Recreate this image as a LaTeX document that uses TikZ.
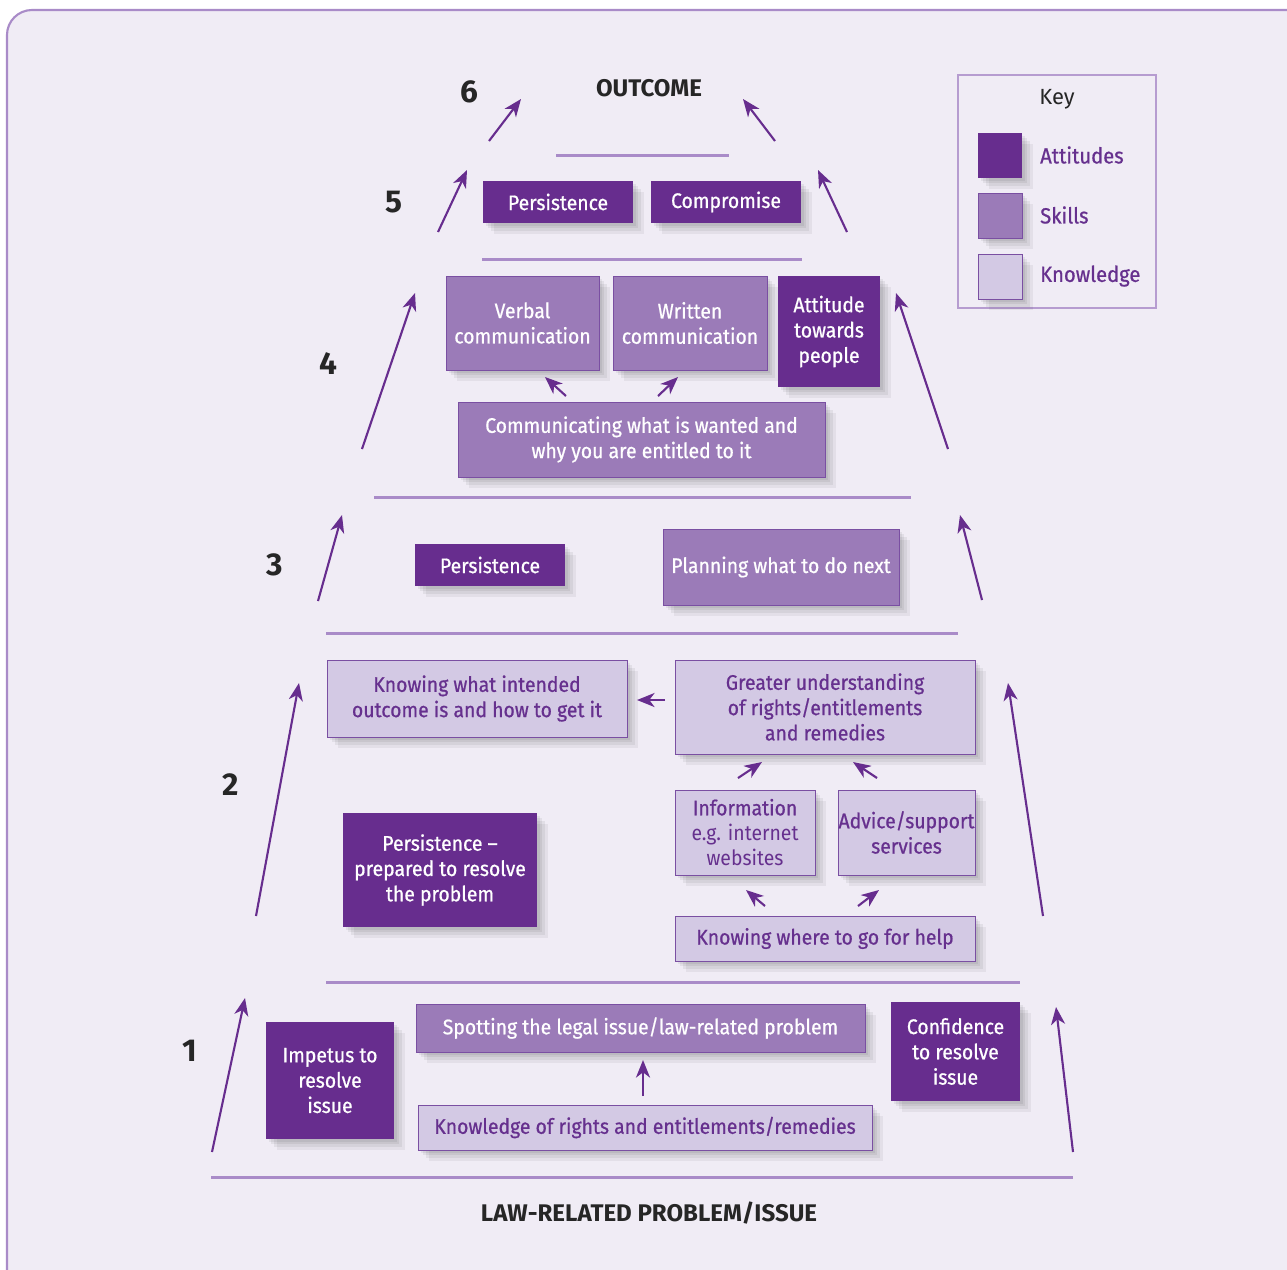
\documentclass[tikz,border=0pt]{standalone}
\usepackage{fontspec}
\setmainfont{Fira Sans}[FakeStretch=0.92, FakeBold=0.7]
\newfontfamily\headfont{Fira Sans}
\newfontfamily\lightfont{Fira Sans}[FakeStretch=0.92]
\usetikzlibrary{arrows.meta,shapes,positioning,shadows}

\definecolor{attcol}{HTML}{672D8E}
\definecolor{skillcol}{HTML}{9B7BB8}
\definecolor{knowcol}{HTML}{D3C9E4}
\definecolor{edgecol}{HTML}{7A4FA2}
\definecolor{linecol}{HTML}{A98BC8}
\definecolor{bgcol}{HTML}{F0ECF5}
\definecolor{textcol}{HTML}{66308E}

\begin{document}
\begin{tikzpicture}[x=0.02cm, y=-0.02cm,
	softshadow/.style = {general shadow={fill=black, opacity=.06, shadow xshift=1.5pt, shadow yshift=-1.5pt},
		general shadow={fill=black, opacity=.06, shadow xshift=3pt, shadow yshift=-3pt},
		general shadow={fill=black, opacity=.06, shadow xshift=4.5pt, shadow yshift=-4.5pt},
		general shadow={fill=black, opacity=.05, shadow xshift=6pt, shadow yshift=-6pt}},
	basic/.style     = {rectangle, align=center, inner sep=0pt, font=\fontsize{12}{14.4}\selectfont, softshadow},
	attitude/.style  = {basic, fill=attcol, text=white},
	skill/.style     = {basic, fill=skillcol, draw=edgecol, thin, text=white},
	knowledge/.style = {basic, fill=knowcol, draw=edgecol, thin, text=textcol},
	sz/.style 2 args = {minimum width=#1*0.02cm, minimum height=#2*0.02cm},
	stepnum/.style   = {font=\headfont\fontsize{18}{18}\selectfont\bfseries, text=black!85},
	heading/.style   = {font=\headfont\fontsize{13.7}{13.7}\selectfont\bfseries, text=black!85},
	divider/.style   = {draw=linecol, line width=1.7pt},
	rise/.style      = {draw=attcol, line width=1.2pt, -{Stealth[length=10pt,width=8pt,inset=3pt]}},
	>=Stealth]

	% Page and frame
	\useasboundingbox (0,0) rectangle (1287,1269);
	\clip (0,0) rectangle (1287,1269);
	\fill[white] (0,0) rectangle (1287,1269);
	\filldraw[fill=bgcol, draw=linecol, line width=1.2pt, rounded corners=0.5cm] (7,10) rectangle (1330,1310);

	% Headings and step numbers
	\node[heading] (outcome) at (649,88) {OUTCOME};
	\node[heading] (problem) at (649,1213) {LAW-RELATED PROBLEM/ISSUE};
	\foreach \n/\x/\y in {6/469/92, 5/394/202, 4/328/364, 3/275/565, 2/231/785, 1/190/1051}
		\node[stepnum] (n\n) at (\x,\y) {\n};

	% Dividers between the steps
	\foreach \xa/\xb/\y in {556/729/155, 482/802/259, 374/911/497, 326/958/633, 326/1020/982, 211/1073/1177}
		\draw[divider] (\xa,\y) -- (\xb,\y);

	% Step 5
	\node[attitude, sz={150}{42}] (pers5) at (558,202) {Persistence};
	\node[attitude, sz={150}{42}] (comp5) at (726,202) {Compromise};

	% Step 4
	\node[skill, sz={153}{94}] (verbal) at (522.5,323) {Verbal\\communication};
	\node[skill, sz={154}{94}] (written) at (690,323) {Written\\communication};
	\node[attitude, sz={102}{111}] (attit) at (829,331.5) {Attitude\\towards\\people};
	\node[skill, sz={367}{75}] (commun) at (641.5,439.5) {Communicating what is wanted and\\why you are entitled to it};

	% Step 3
	\node[attitude, sz={150}{42}] (pers3) at (490,565) {Persistence};
	\node[skill, sz={236}{76}] (plan) at (781,567) {Planning what to do next};

	% Step 2
	\node[knowledge, sz={300}{77}] (intend) at (477,698.5) {Knowing what intended\\outcome is and how to get it};
	\node[knowledge, sz={300}{94}] (greater) at (825,707) {Greater understanding\\of rights/entitlements\\and remedies};
	\node[knowledge, sz={140}{85}] (info) at (745,832.5) {Information\\{\lightfont e.g. internet}\\{\lightfont websites}};
	\node[knowledge, sz={137}{85}] (advice) at (906.5,832.5) {Advice/support\\services};
	\node[knowledge, sz={300}{45}] (where) at (825,938.5) {Knowing where to go for help};
	\node[attitude, sz={194}{114}] (pers2) at (440,870) {Persistence --\\prepared to resolve\\the problem};

	% Step 1
	\node[attitude, sz={128}{117}] (impetus) at (330,1080.5) {Impetus to\\resolve\\issue};
	\node[skill, sz={449}{48}] (spot) at (640.5,1028) {Spotting the legal issue/law-related problem};
	\node[knowledge, sz={454}{45}] (rights) at (645,1127.5) {Knowledge of rights and entitlements/remedies};
	\node[attitude, sz={129}{99}] (confid) at (955.5,1051.5) {Confidence\\to resolve\\issue};

	% Arrows climbing the sides of the pyramid
	\foreach \xa/\ya/\xb/\yb in {489/141/521/99, 775/141/743/99, 438/232/467/170, 847/232/818/170,
		362/449/415/293, 948/449/896/293, 318/601/342/515, 982/600/960/515,
		256/916/299/683, 1043/916/1008/683, 212/1152/245/998, 1073/1152/1056/1007}
		\draw[rise] (\xa,\ya) -- (\xb,\yb);

	% Short arrows between the boxes
	\foreach \xa/\ya/\xb/\yb in {566/396/545/377, 658/396/678/377, 665/700/637/700, 738/778/762/762,
		877/778/853/762, 765/906/746/890, 858/906/879/890, 643/1096/643/1060}
		\draw[rise] (\xa,\ya) -- (\xb,\yb);

	% Key
	\draw[draw=linecol!85, line width=1.2pt] (958,75) rectangle (1156,308);
	\node[font=\headfont\fontsize{12.5}{12.5}\selectfont, text=black!85] (keyt) at (1057,99) {Key};
	\node[attitude, sz={44}{45}] (katt) at (1000,155.5) {};
	\node[skill, sz={44}{45}] (kski) at (1000,215.5) {};
	\node[knowledge, sz={44}{45}] (kkno) at (1000,276.5) {};
	\begin{scope}[every node/.style={anchor=west, text=textcol, font=\fontsize{12.5}{12.5}\selectfont}]
		\node (latt) at (1034,155) {Attitudes};
		\node (lski) at (1034,215) {Skills};
		\node (lkno) at (1034,276) {Knowledge};
	\end{scope}

\end{tikzpicture}
\end{document}
